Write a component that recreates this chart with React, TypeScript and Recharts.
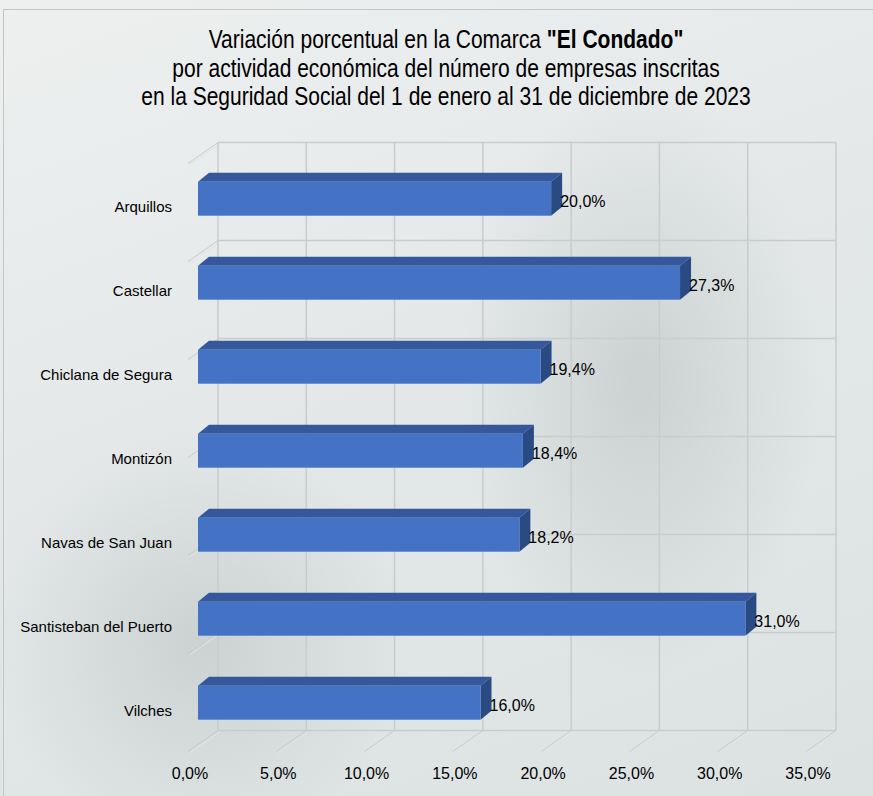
import { Bar, BarChart, CartesianGrid, LabelList, XAxis, YAxis } from "recharts";

const municipios = [
  "Arquillos",
  "Castellar",
  "Chiclana de Segura",
  "Montizón",
  "Navas de San Juan",
  "Santisteban del Puerto",
  "Vilches",
];
const variacion = [20.0, 27.3, 19.4, 18.4, 18.2, 31.0, 16.0];
const xTicks = [0, 5, 10, 15, 20, 25, 30, 35];
const gridRows = [0, 1, 2, 3, 4, 5, 6, 7];

const data = municipios.map((m, i) => ({ name: m, value: variacion[i] }));

// desplazamiento de la pared del fondo respecto al plano de las barras
const WALL_DX = 20;
const WALL_DY = -14;
const FLOOR_DX = -10;
const FLOOR_DY = 7;
const DEPTH_X = 11;
const DEPTH_Y = -9;

const GRID = "#c9cccd";
const FONT = "'Liberation Sans', Arial, sans-serif";

const fmt = (v: number) => `${v.toFixed(1).replace(".", ",")}%`;

function Rail({ x1, y1, x2, y2 }: { x1: number; y1: number; x2: number; y2: number }) {
  return (
    <g>
      <line x1={x1} y1={y1} x2={x2} y2={y2} stroke={GRID} strokeWidth={1} />
      <line x1={x1 + 1.5} y1={y1 + 1.5} x2={x2 + 1.5} y2={y2 + 1.5} stroke="#e2e4e4" strokeWidth={1} />
    </g>
  );
}

function VerticalLine(props: any) {
  const { x1, y1, y2, index } = props;
  return (
    <g key={`v-${index}`}>
      <line x1={x1 + WALL_DX} y1={y1 + WALL_DY} x2={x1 + WALL_DX} y2={y2 + WALL_DY} stroke={GRID} strokeWidth={1.5} />
      <Rail x1={x1 + WALL_DX} y1={y2 + WALL_DY} x2={x1 + FLOOR_DX} y2={y2 + FLOOR_DY} />
    </g>
  );
}

function HorizontalLine(props: any) {
  const { x1, x2, y1, index } = props;
  return (
    <g key={`h-${index}`}>
      <line x1={x1 + WALL_DX} y1={y1 + WALL_DY} x2={x2 + WALL_DX} y2={y1 + WALL_DY} stroke={GRID} strokeWidth={1.5} />
      <Rail x1={x1 + WALL_DX} y1={y1 + WALL_DY} x2={x1 + FLOOR_DX} y2={y1 + FLOOR_DY} />
    </g>
  );
}

function Bar3D(props: any) {
  const { x, y, width, height } = props;
  const r = x + width;
  const b = y + height;
  return (
    <g>
      <polygon
        points={`${x},${y} ${x + DEPTH_X},${y + DEPTH_Y} ${r + DEPTH_X},${y + DEPTH_Y} ${r},${y}`}
        fill="#34589b"
      />
      <polygon
        points={`${r},${y} ${r + DEPTH_X},${y + DEPTH_Y} ${r + DEPTH_X},${b + DEPTH_Y} ${r},${b}`}
        fill="#2a4a84"
      />
      <rect x={x} y={y} width={width} height={height} fill="#4472c4" />
    </g>
  );
}

function ValueLabel(props: any) {
  const { x, y, width, height, value } = props;
  return (
    <text x={x + width + 9} y={y + height / 2 + 8.5} fontSize={16} fontFamily={FONT} fill="#000">
      {fmt(value)}
    </text>
  );
}

function CategoryTick(props: any) {
  const { x, y, payload } = props;
  return (
    <text x={x - 18} y={y + 13.5} textAnchor="end" fontSize={15} fontFamily={FONT} fill="#000">
      {payload.value}
    </text>
  );
}

function PercentTick(props: any) {
  const { x, y, payload } = props;
  return (
    <text x={x - 8} y={y + 26} textAnchor="middle" fontSize={16} fontFamily={FONT} fill="#000">
      {fmt(payload.value)}
    </text>
  );
}

export default function App() {
  return (
    <div
      style={{
        position: "absolute",
        left: 0,
        top: 0,
        width: 873,
        height: 796,
        overflow: "hidden",
        background:
          "radial-gradient(ellipse 260px 420px at 640px 380px, rgba(150,160,160,0.3), rgba(150,160,160,0) 70%), radial-gradient(ellipse 300px 300px at 200px 640px, rgba(140,150,150,0.25), rgba(140,150,150,0) 70%), linear-gradient(160deg, #eef0f0 0%, #e4e8e8 45%, #dce2e2 100%)",
      }}
    >
      <div
        style={{
          position: "absolute",
          left: 3,
          top: 9,
          width: 900,
          height: 820,
          borderTop: "1px solid #c4c6c6",
          borderLeft: "1px solid #c4c6c6",
        }}
      />
      <div
        style={{
          position: "absolute",
          left: 46,
          top: 25,
          width: 800,
          textAlign: "center",
          fontFamily: FONT,
          fontSize: 25,
          lineHeight: "28.5px",
          color: "#000",
          transform: "scaleX(0.84)",
          transformOrigin: "400px 0",
        }}
      >
        <div>
          Variación porcentual en la Comarca <b>"El Condado"</b>
        </div>
        <div>por actividad económica del número de empresas inscritas</div>
        <div>en la Seguridad Social del 1 de enero al 31 de diciembre de 2023</div>
      </div>
      <div style={{ position: "absolute", left: 0, top: 0 }}>
        <BarChart
          width={873}
          height={796}
          data={data}
          layout="vertical"
          margin={{ top: 156.5, right: 57, bottom: 21.5, left: 8 }}
          barCategoryGap="30%"
        >
          <CartesianGrid
            yAxisId="rows"
            horizontal={HorizontalLine}
            vertical={VerticalLine}
            fill="none"
          />
          <XAxis
            type="number"
            domain={[0, 35]}
            ticks={xTicks}
            axisLine={false}
            tickLine={false}
            tick={PercentTick}
            height={30}
            interval={0}
          />
          <YAxis
            type="category"
            dataKey="name"
            width={190}
            axisLine={false}
            tickLine={false}
            tick={CategoryTick}
            interval={0}
          />
          <YAxis yAxisId="rows" type="number" domain={[0, 7]} ticks={gridRows} hide />
          <Bar dataKey="value" shape={Bar3D} isAnimationActive={false}>
            <LabelList dataKey="value" content={ValueLabel} />
          </Bar>
        </BarChart>
      </div>
    </div>
  );
}
